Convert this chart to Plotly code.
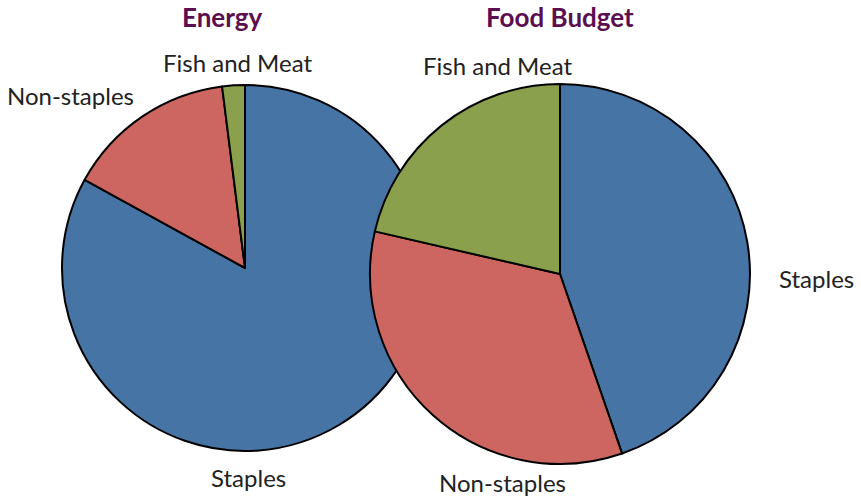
import plotly.graph_objects as go

categories = ["Staples", "Non-staples", "Fish and Meat"]
energy_values = [83, 15, 2]
budget_values = [44.7, 33.9, 21.4]
colors = ["#4674A5", "#CD6660", "#8AA04D"]
titles = ["Energy", "Food Budget"]

fig = go.Figure()
fig.add_trace(go.Pie(
    labels=categories, values=energy_values, sort=False, direction="clockwise",
    rotation=0, textinfo="none", hoverinfo="label+percent",
    marker=dict(colors=colors, line=dict(color="black", width=2)),
    domain=dict(x=[0.0720, 0.4971], y=[0.0944, 0.8293]), showlegend=False,
))
fig.add_trace(go.Pie(
    labels=categories, values=budget_values, sort=False, direction="clockwise",
    rotation=0, textinfo="none", hoverinfo="label+percent",
    marker=dict(colors=colors, line=dict(color="black", width=2)),
    domain=dict(x=[0.4297, 0.8711], y=[0.0683, 0.8313]), showlegend=False,
))

lab_font = dict(family="Lato, Open Sans, sans-serif", size=24, color="#222222")
title_font = dict(family="Lato, Open Sans, sans-serif", size=26, color="#5B0F4F")

def px(x, y):
    return x / 861, 1 - y / 498

annots = [
    (titles[0], 222, 17, title_font, True),
    (titles[1], 560, 17, title_font, True),
    (categories[2], 237, 62, lab_font, False),
    (categories[1], 70, 95, lab_font, False),
    (categories[0], 248, 477, lab_font, False),
    (categories[2], 497, 65, lab_font, False),
    (categories[0], 816, 278, lab_font, False),
    (categories[1], 502, 482, lab_font, False),
]
for text, x, y, f, bold in annots:
    ax, ay = px(x, y)
    fig.add_annotation(
        x=ax, y=ay, xref="paper", yref="paper", showarrow=False,
        text=f"<b>{text}</b>" if bold else text, font=f,
        xanchor="center", yanchor="middle",
    )

fig.update_layout(
    width=861, height=498, margin=dict(l=0, r=0, t=0, b=0),
    paper_bgcolor="white", plot_bgcolor="white",
)
fig.write_html(
    "out.html",
    config={"displayModeBar": False},
    post_script="document.body.style.margin='0';document.body.style.overflow='hidden';",
)
